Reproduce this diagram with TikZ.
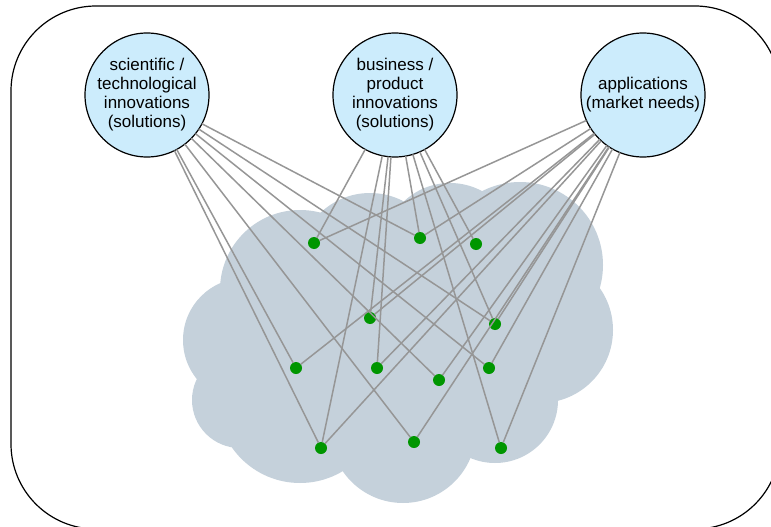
\documentclass[tikz,border=0pt]{standalone}
\usepackage{fontspec}
\setmainfont{Liberation Sans}
\definecolor{cloudc}{RGB}{197,209,219}
\definecolor{bubblec}{RGB}{204,236,252}
\definecolor{dotc}{RGB}{0,150,0}
\definecolor{linkc}{RGB}{150,150,150}
\tikzset{
  bubble/.style={circle, draw=black, line width=1.2pt, fill=bubblec, minimum size=124pt,
    inner sep=0pt, outer sep=0pt, align=center, font=\fontsize{17}{19}\selectfont},
  gdot/.style={circle, fill=dotc, minimum size=12pt, inner sep=0pt, outer sep=0pt},
  link/.style={draw=linkc, line width=1.5pt},
  cloudpart/.style={fill=cloudc, draw=none},
}
\begin{document}
\begin{tikzpicture}[x=1pt,y=-1pt]
\useasboundingbox (0,0) rectangle (771,527);
\clip (0,0) rectangle (771,527);
% frame
\draw[line width=1.2pt, rounded corners=85pt] (11,6) rectangle (780,529);
% cloud
\fill[cloudpart] (370,265) circle[radius=72pt];
\fill[cloudpart] (300,290) circle[radius=80pt];
\fill[cloudpart] (450,250) circle[radius=67pt];
\fill[cloudpart] (520,265) circle[radius=83pt];
\fill[cloudpart] (540,330) circle[radius=73pt];
\fill[cloudpart] (495,400) circle[radius=63pt];
\fill[cloudpart] (403,430) circle[radius=73pt];
\fill[cloudpart] (300,400) circle[radius=83pt];
\fill[cloudpart] (245,340) circle[radius=62pt];
\fill[cloudpart] (240,400) circle[radius=48pt];
\fill[cloudpart] (400,340) circle[radius=100pt];
% circles
\node[bubble] (L) at (147,95) {scientific /\\technological\\innovations\\(solutions)};
\node[bubble] (M) at (395,95) {business /\\product\\innovations\\(solutions)};
\node[bubble] (R) at (643,95) {applications\\(market needs)};
% dots
\node[gdot] (a) at (314,243) {};
\node[gdot] (b) at (420,238) {};
\node[gdot] (c) at (476,244) {};
\node[gdot] (d) at (370,318) {};
\node[gdot] (e) at (495,324) {};
\node[gdot] (f) at (296,368) {};
\node[gdot] (g) at (377,368) {};
\node[gdot] (h) at (439,380) {};
\node[gdot] (i) at (489,368) {};
\node[gdot] (j) at (321,448) {};
\node[gdot] (k) at (414,442) {};
\node[gdot] (l) at (501,448) {};
% links
\foreach \t in {b,e,i,h,k,j,f} \draw[link] (L) -- (\t);
\foreach \t in {a,b,c,d,g,j,l,e} \draw[link] (M) -- (\t);
\foreach \t in {a,b,d,f,g,j,k,h,i,e,l} \draw[link] (R) -- (\t);
\end{tikzpicture}
\end{document}
